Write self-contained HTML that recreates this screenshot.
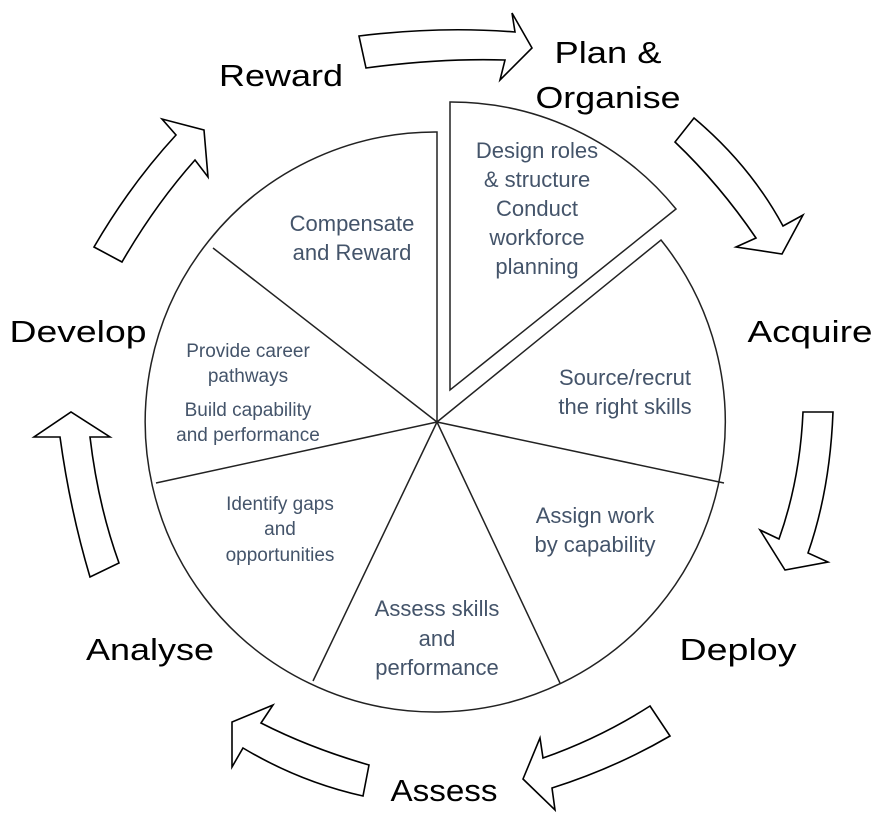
<!DOCTYPE html>
<html><head><meta charset="utf-8"><style>
html,body{margin:0;padding:0;background:#fff;}
svg{display:block;}
.s{font-family:"Liberation Sans",sans-serif;fill:#44546a;text-anchor:middle;}
.b{font-family:"Liberation Sans",sans-serif;fill:#000;text-anchor:middle;font-size:31px;}
</style></head><body>
<svg width="883" height="817" viewBox="0 0 883 817" xmlns="http://www.w3.org/2000/svg">
<g fill="#fff" stroke="#000" stroke-width="1.6" stroke-linejoin="miter">
<path d="M359,36 Q440,26 515,32 L512,13 L532,48 L500,80 L505,60 Q440,58 366,68 Z"/>
<path d="M694,118 Q750,165 783,226 L803,215 L782,254 L736,247 L756,238 Q720,185 675,142 Z"/>
<path d="M803,412 L833,412 Q830,490 808,553 L828,562 L785,570 L760,530 L779,539 Q800,480 803,412 Z"/>
<path d="M650,706 Q600,738 543,758 L540,738 L523,779 L555,810 L552,788 Q615,768 670,736 Z"/>
<path d="M369,765 Q310,748 261,723 L273,705 L232,722 L232,767 L243,748 Q300,782 363,796 Z"/>
<path d="M90,577 Q70,510 60,437 L34,437 L71,412 L110,437 L90,437 Q98,505 119,563 Z"/>
<path d="M94,247 Q130,185 176,135 L162,119 L204,130 L208,177 L195,160 Q155,205 122,262 Z"/>
</g>
<g fill="#fff" stroke="#222" stroke-width="1.5">
<path d="M437,422 L661,240 A290,290 0 1 1 437,132 Z"/>
<path d="M450,390 L450,102 A290,290 0 0 1 676,209 Z"/>
<path d="M437,422 L213,248 M437,422 L156,483 M437,422 L313,681 M437,422 L560,683 M437,422 L724,483" fill="none"/>
</g>
<g class="s" font-size="22">
<text x="537" y="158">Design roles</text>
<text x="537" y="187">&amp; structure</text>
<text x="537" y="216">Conduct</text>
<text x="537" y="245">workforce</text>
<text x="537" y="274">planning</text>
<text x="352" y="231">Compensate</text>
<text x="352" y="260">and Reward</text>
<text x="625" y="385">Source/recrut</text>
<text x="625" y="414">the right skills</text>
<text x="595" y="523">Assign work</text>
<text x="595" y="552">by capability</text>
<text x="437" y="616">Assess skills</text>
<text x="437" y="646">and</text>
<text x="437" y="675">performance</text>
</g>
<g class="s" font-size="19">
<text x="248" y="357">Provide career</text>
<text x="248" y="382">pathways</text>
<text x="248" y="416">Build capability</text>
<text x="248" y="441">and performance</text>
<text x="280" y="510">Identify gaps</text>
<text x="280" y="535">and</text>
<text x="280" y="561">opportunities</text>
</g>
<g class="b">
<text x="281" y="86" textLength="124" lengthAdjust="spacingAndGlyphs">Reward</text>
<text x="608" y="63" textLength="107" lengthAdjust="spacingAndGlyphs">Plan &amp;</text>
<text x="608" y="108" textLength="145" lengthAdjust="spacingAndGlyphs">Organise</text>
<text x="810" y="342" textLength="125" lengthAdjust="spacingAndGlyphs">Acquire</text>
<text x="78" y="342" textLength="137" lengthAdjust="spacingAndGlyphs">Develop</text>
<text x="738" y="660" textLength="117" lengthAdjust="spacingAndGlyphs">Deploy</text>
<text x="150" y="660" textLength="128" lengthAdjust="spacingAndGlyphs">Analyse</text>
<text x="444" y="801" textLength="107" lengthAdjust="spacingAndGlyphs">Assess</text>
</g>
</svg>
</body></html>
